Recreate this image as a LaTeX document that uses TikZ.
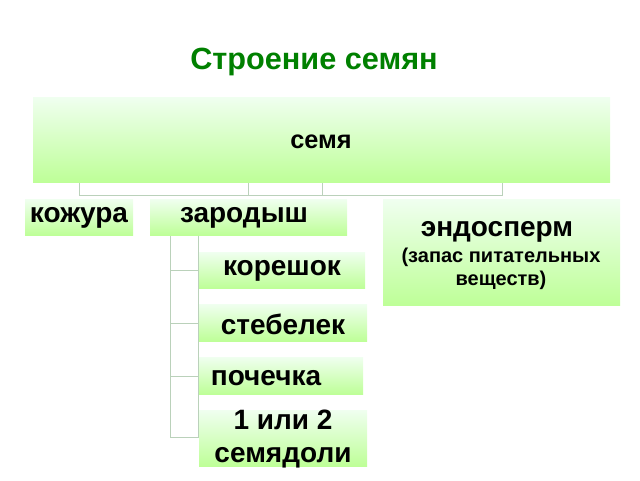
\documentclass[tikz,border=0pt]{standalone}
\usepackage{fontspec}
\setmainfont{Liberation Sans}
\begin{document}
\begin{tikzpicture}[x=0.75pt,y=-0.75pt,
  gbox/.style={inner sep=0pt,top color=green!6!white,bottom color=green!30!white!85!yellow,draw=none},
  link/.style={draw=green!20!gray!45,fill=white,line width=0.6pt},
  lbl/.style={font=\bfseries\fontsize{21}{23}\selectfont,align=center}]
\useasboundingbox (0,0) rectangle (640,480);
\node[font=\bfseries\fontsize{23}{25}\selectfont,text=green!50!black] (title) at (314,62) {Строение семян};
% connector bars
\draw[link] (79,182) rectangle (248,195);
\draw[link] (248,182) rectangle (322,195);
\draw[link] (322,182) rectangle (502,195);
\draw[link] (170,235) rectangle (198,270);
\draw[link] (170,270) rectangle (198,323);
\draw[link] (170,323) rectangle (198,376);
\draw[link] (170,376) rectangle (198,437);
% boxes
\shade[gbox] (33,97) rectangle (610,182);
\node[font=\bfseries\fontsize{19}{21}\selectfont] (seed) at (321,142) {семя};
\shade[gbox] (25,199) rectangle (133,235);
\node[lbl] (koz) at (79,218) {кожура};
\shade[gbox] (150,199) rectangle (347,235);
\node[lbl] (zar) at (244,218) {зародыш};
\shade[gbox] (383,199) rectangle (620,305);
\node[lbl] (endo) at (497,232) {эндосперм};
\node[font=\bfseries\fontsize{15}{17}\selectfont,align=center] (zap) at (501,269) {(запас питательных\\веществ)};
\shade[gbox] (199,252) rectangle (365,288);
\node[lbl] (kor) at (282,271) {корешок};
\shade[gbox] (199,304) rectangle (367,341);
\node[lbl] (steb) at (283,324) {стебелек};
\shade[gbox] (199,357) rectangle (363,394);
\node[lbl] (poch) at (266,378) {почечка};
\shade[gbox] (199,410) rectangle (367,466);
\node[lbl,font=\bfseries\fontsize{21}{25}\selectfont] (sem) at (283,439) {1 или 2\\семядоли};
\end{tikzpicture}
\end{document}
